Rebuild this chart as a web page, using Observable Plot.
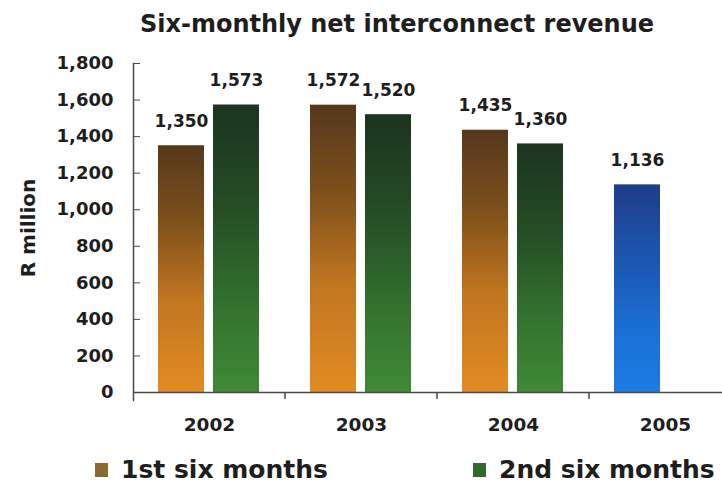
<!DOCTYPE html>
<html><head><meta charset="utf-8">
<script src="https://cdn.jsdelivr.net/npm/d3@7"></script>
<script src="https://cdn.jsdelivr.net/npm/@observablehq/plot@0.6"></script>
<style>
html,body{margin:0;padding:0;background:#fff;overflow:hidden;}
body{width:722px;height:483px;font-family:"DejaVu Sans",sans-serif;font-weight:bold;color:#1e1e1e;}
#title{box-sizing:border-box;width:722px;height:49px;line-height:49px;padding-left:72px;text-align:center;font-size:24px;}
#chart{height:400px;}
#legend{position:relative;height:34px;font-size:25px;}
.item{position:absolute;top:6px;display:flex;align-items:center;line-height:29px;white-space:nowrap;}
.sw{width:13px;height:14px;margin-right:13px;}
g[aria-label="y-axis label"] text{font-size:20px;}
</style></head><body>
<div id="title">Six-monthly net interconnect revenue</div>
<div id="chart"></div>
<div id="legend"></div>
<script>
// ---- data ----
const years = ["2002", "2003", "2004", "2005"];
const firstHalf = [1350, 1572, 1435, 1136];
const secondHalf = [1573, 1520, 1360, null];
const highlightYear = "2005";
const halves = ["1st", "2nd"];
const seriesNames = ["1st six months", "2nd six months"];
const yTicks = [0, 200, 400, 600, 800, 1000, 1200, 1400, 1600, 1800];

// ---- table ----
const rows = years.flatMap((yr, i) => [
  {year: yr, half: "1st", value: firstHalf[i], series: yr === highlightYear ? "hl" : "1st"},
  {year: yr, half: "2nd", value: secondHalf[i], series: "2nd"}
]).filter(d => d.value != null);

const fmt = d3.format(",");
const ink = "#1e1e1e";
const axisInk = "#4a4a4a";

const plot = Plot.plot({
  width: 722, height: 400,
  marginTop: 14, marginBottom: 57, marginLeft: 133, marginRight: -19,
  style: {fontFamily: "DejaVu Sans, sans-serif", fontWeight: "bold", color: ink, background: "transparent"},
  fx: {domain: years, padding: 0, label: null},
  x: {domain: halves, paddingInner: 0.16, paddingOuter: 0.446, axis: null},
  y: {domain: [0, 1800], label: "R million"},
  color: {domain: ["1st", "2nd", "hl"], range: ["url(#gOrange)", "url(#gGreen)", "url(#gBlue)"]},
  marks: [
    Plot.barY(rows, {fx: "year", x: "half", y: "value", fill: "series"}),
    Plot.ruleY([0], {stroke: axisInk, strokeWidth: 1.5}),
    Plot.frame({anchor: "left", facet: "super", stroke: axisInk, strokeWidth: 1.5, insetBottom: -8}),
    Plot.axisY({ticks: yTicks, tickSize: 7, dx: 7, text: null, stroke: axisInk, label: null}),
    Plot.axisY({ticks: yTicks, tickSize: 0, tickPadding: 20, tickFormat: fmt, fontSize: 18, fill: ink,
                label: "R million", labelAnchor: "center", labelOffset: 113, labelArrow: "none"}),
    Plot.axisFx({anchor: "bottom", tickSize: 0, tickPadding: 25, fontSize: 18.5, fill: ink, label: null}),
    Plot.text(rows, {fx: "year", x: "half", y: "value", text: d => fmt(d.value),
                     lineAnchor: "bottom", dy: -19, fontSize: 17, fill: ink})
  ]
});

// gradients
const svg = d3.select(plot);
const defs = svg.insert("defs", ":first-child");
const grads = {
  gOrange: [["0%", "#55381c"], ["30%", "#7d4f1b"], ["62%", "#c07520"], ["100%", "#e28b22"]],
  gGreen: [["0%", "#1c3420"], ["35%", "#254d25"], ["70%", "#33722e"], ["100%", "#3f8a35"]],
  gBlue: [["0%", "#1f3c88"], ["35%", "#1c56b0"], ["70%", "#1a6fd4"], ["100%", "#1a7ce2"]]
};
for (const [id, stops] of Object.entries(grads)) {
  const g = defs.append("linearGradient").attr("id", id).attr("x1", 0).attr("y1", 0).attr("x2", 0).attr("y2", 1);
  for (const [o, c] of stops) g.append("stop").attr("offset", o).attr("stop-color", c);
}

// small ticks at the year-group boundaries on the x axis
const fxs = plot.scale("fx"), ys = plot.scale("y");
const y0 = ys.apply(0);
for (const yr of years.slice(1)) {
  const xb = fxs.apply(yr);
  svg.append("line").attr("x1", xb).attr("x2", xb).attr("y1", y0).attr("y2", y0 + 7)
    .attr("stroke", axisInk).attr("stroke-width", 1.5);
}

document.getElementById("chart").append(plot);

// legend
const legend = document.getElementById("legend");
const legendLeft = [95, 473];
const swatchColors = ["#8a6a30", "#2f6a2a"];
seriesNames.forEach((name, i) => {
  const it = document.createElement("div");
  it.className = "item";
  it.style.left = legendLeft[i] + "px";
  it.innerHTML = `<span class="sw" style="background:${swatchColors[i]}"></span><span>${name}</span>`;
  legend.append(it);
});
</script>
</body></html>
